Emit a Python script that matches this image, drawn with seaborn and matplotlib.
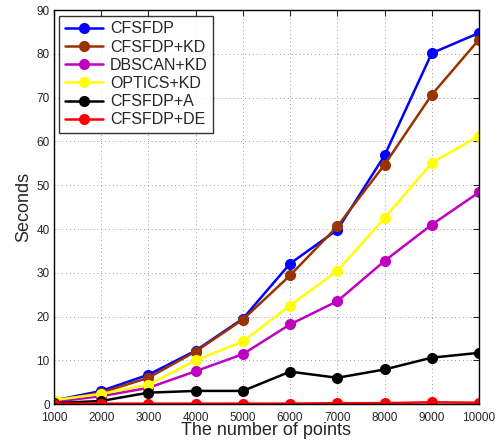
import matplotlib
matplotlib.use("Agg")
import matplotlib.pyplot as plt
import seaborn as sns
import pandas as pd

points = [1000, 2000, 3000, 4000, 5000, 6000, 7000, 8000, 9000, 10000]
cfsfdp = [0.8, 3.0, 6.7, 12.2, 19.5, 32.1, 39.8, 56.8, 80.2, 84.8]
cfsfdp_kd = [0.7, 2.6, 6.0, 12.0, 19.3, 29.4, 40.6, 54.7, 70.7, 83.3]
dbscan_kd = [0.5, 1.8, 3.7, 7.5, 11.4, 18.2, 23.5, 32.7, 41.0, 48.4]
optics_kd = [0.9, 2.3, 4.4, 10.0, 14.3, 22.5, 30.4, 42.5, 55.1, 61.3]
cfsfdp_a = [0.2, 0.7, 2.6, 3.0, 3.0, 7.4, 6.0, 7.9, 10.6, 11.7]
cfsfdp_de = [0.1, 0.1, 0.1, 0.1, 0.1, 0.1, 0.2, 0.2, 0.4, 0.3]

names = ["CFSFDP", "CFSFDP+KD", "DBSCAN+KD", "OPTICS+KD", "CFSFDP+A", "CFSFDP+DE"]
series = [cfsfdp, cfsfdp_kd, dbscan_kd, optics_kd, cfsfdp_a, cfsfdp_de]
colors = ["#0000ff", "#993300", "#c000c0", "#ffff00", "#000000", "#ff0000"]

rows = []
for name, vals in zip(names, series):
    for x, v in zip(points, vals):
        rows.append({"points": x, "seconds": v, "method": name})
df = pd.DataFrame(rows)

sns.set_style("white")
plt.rcParams["font.family"] = ["Liberation Sans", "DejaVu Sans"]

fig = plt.figure(figsize=(4.99, 4.44), dpi=100)
ax = fig.add_axes([0.108, 0.09, 0.852, 0.887])

sns.lineplot(data=df, x="points", y="seconds", hue="method", hue_order=names,
             palette=colors, marker="o", markersize=8, markeredgewidth=0,
             linewidth=1.8, ax=ax)

ax.set_xlim(1000, 10000)
ax.set_ylim(0, 90)
ax.set_xticks(points)
ax.set_yticks(range(0, 91, 10))
ax.tick_params(direction="in", top=True, right=True, labelsize=8.5, length=4, width=0.8)
ax.tick_params(axis="x", pad=5.5)
ax.tick_params(axis="y", pad=3)
ax.grid(True, linestyle=(0, (1, 3)), color="#999999", linewidth=0.7)
for s in ax.spines.values():
    s.set_color("black")
    s.set_linewidth(1.0)

ax.set_xlabel("The number of points", fontsize=13, labelpad=-1)
ax.set_ylabel("Seconds", fontsize=13, labelpad=3)

leg = ax.legend(loc="upper left", fontsize=11.5, frameon=True, fancybox=False,
                edgecolor="black", borderpad=0.35, labelspacing=0.2,
                handlelength=2.4, handletextpad=0.4, borderaxespad=0.35)
leg.get_frame().set_linewidth(1.0)

fig.savefig("out.png", dpi=100)
